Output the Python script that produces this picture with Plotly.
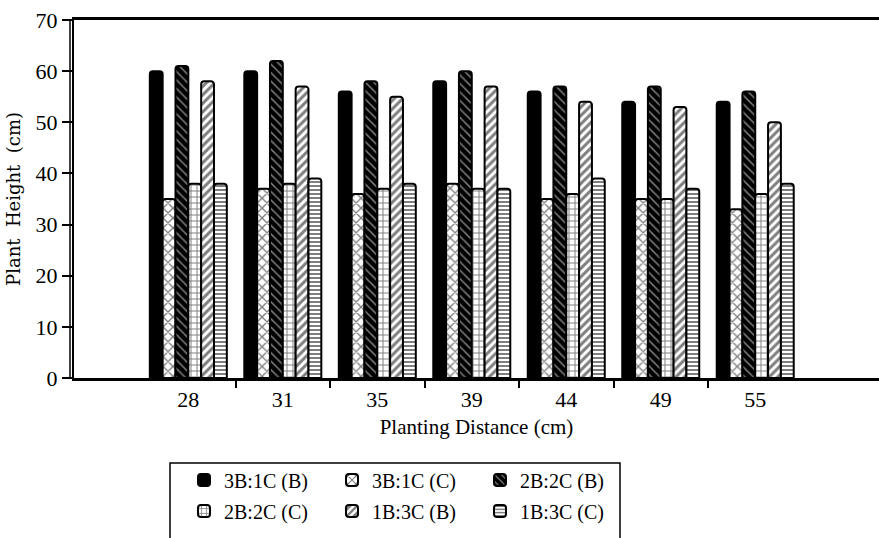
import plotly.graph_objects as go

# Planting distance (cm) for each group of bars
distances = ["28", "31", "35", "39", "44", "49", "55"]

# Plant height (cm) per planting arrangement
h_3b1c_b = [60, 60, 56, 58, 56, 54, 54]
h_3b1c_c = [35, 37, 36, 38, 35, 35, 33]
h_2b2c_b = [61, 62, 58, 60, 57, 57, 56]
h_2b2c_c = [38, 38, 37, 37, 36, 35, 36]
h_1b3c_b = [58, 57, 55, 57, 54, 53, 50]
h_1b3c_c = [38, 39, 38, 37, 39, 37, 38]

# name, values, fill pattern, legend row
series = [
    ("3B:1C (B)", h_3b1c_b, dict(shape="", bgcolor="black", fgcolor="black"), "legend"),
    ("3B:1C (C)", h_3b1c_c, dict(shape="x", bgcolor="white", fgcolor="black", size=7, solidity=0.35), "legend"),
    ("2B:2C (B)", h_2b2c_b, dict(shape="\\", bgcolor="black", fgcolor="white", size=6, solidity=0.25), "legend"),
    ("2B:2C (C)", h_2b2c_c, dict(shape="+", bgcolor="white", fgcolor="black", size=6, solidity=0.3), "legend2"),
    ("1B:3C (B)", h_1b3c_b, dict(shape="/", bgcolor="white", fgcolor="black", size=6, solidity=0.5), "legend2"),
    ("1B:3C (C)", h_1b3c_c, dict(shape="-", bgcolor="white", fgcolor="black", size=4, solidity=0.5), "legend2"),
]

xpos = list(range(len(distances)))

fig = go.Figure()
for name, vals, pat, leg in series:
    fig.add_trace(go.Bar(
        x=xpos, y=vals, name=name, legend=leg,
        marker=dict(color=pat["bgcolor"], pattern=pat, cornerradius=3,
                    line=dict(color="black", width=2)),
    ))

serif = "Liberation Serif"
W, H = 879, 538
L, R, T, B = 74, 0, 20, 160
plot_w, plot_h = W - L - R, H - T - B


def px_to_paper_x(px):
    return (px - L) / plot_w


def px_to_paper_y(py):
    return (H - B - py) / plot_h


legend_common = dict(
    orientation="h",
    xref="container", x=184 / W, xanchor="left",
    yref="container", yanchor="middle",
    entrywidth=103, entrywidthmode="pixels",
    borderwidth=0, bgcolor="rgba(0,0,0,0)",
    font=dict(family=serif, size=20),
    traceorder="normal",
)

fig.update_layout(
    width=W, height=H,
    margin=dict(l=L, r=R, t=T, b=B, autoexpand=False),
    paper_bgcolor="white", plot_bgcolor="white",
    barmode="group", bargap=0.185, bargroupgap=0,
    font=dict(family=serif, color="black", size=20),
    xaxis=dict(
        range=[-1.21, 7.31],
        tickmode="array", tickvals=xpos, ticktext=distances,
        ticks="", showgrid=False, zeroline=False,
        showline=True, linecolor="black", linewidth=3, mirror=True,
        tickfont=dict(family=serif, size=22),
        minor=dict(tickmode="array", tickvals=[i + 0.5 for i in xpos[:-1]],
                   ticks="outside", ticklen=7, tickwidth=2, tickcolor="black",
                   showgrid=False),
        title=dict(text="Planting Distance (cm)", standoff=8,
                   font=dict(family=serif, size=21)),
    ),
    yaxis=dict(
        range=[0, 70], tickmode="array", tickvals=list(range(0, 71, 10)),
        ticks="outside", ticklen=10, tickwidth=2, tickcolor="black",
        showgrid=False, zeroline=False,
        showline=True, linecolor="black", linewidth=2,
        tickfont=dict(family=serif, size=22),
        title=dict(text="Plant  Height  (cm)", standoff=10,
                   font=dict(family="DejaVu Serif", size=18)),
    ),
    legend=dict(legend_common, y=1 - 480 / H),
    legend2=dict(legend_common, y=1 - 511 / H),
    shapes=[
        # outer rule of the doubled value axis
        dict(type="line", xref="paper", yref="paper",
             x0=px_to_paper_x(70), x1=px_to_paper_x(70), y0=0, y1=1,
             line=dict(color="black", width=1.5)),
        # frame around the legend
        dict(type="rect", xref="paper", yref="paper",
             x0=px_to_paper_x(170), x1=px_to_paper_x(620),
             y0=px_to_paper_y(550), y1=px_to_paper_y(463),
             line=dict(color="black", width=1.5), fillcolor="rgba(0,0,0,0)",
             layer="below"),
    ],
)

fig.write_html("out.html")
